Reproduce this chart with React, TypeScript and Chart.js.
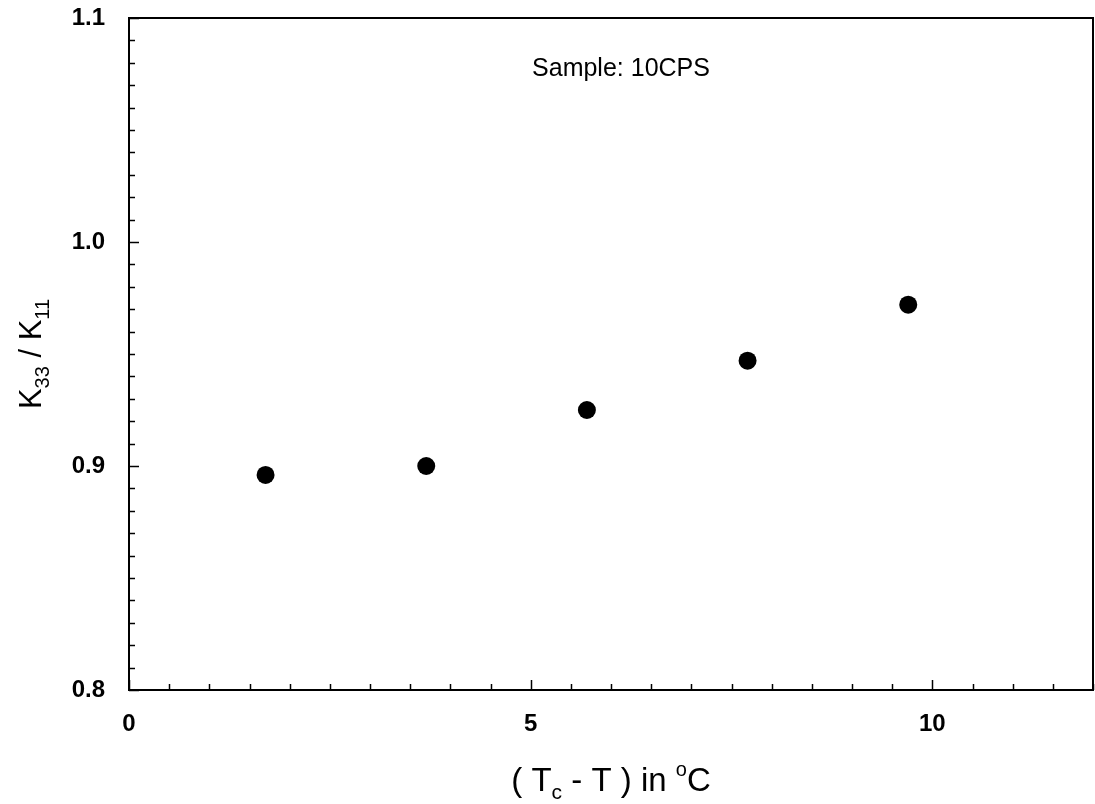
import { useEffect, useRef } from "react";
import { Chart, registerables } from "chart.js";

Chart.register(...registerables);

// ---- data ----
const xValues = [1.7, 3.7, 5.7, 7.7, 9.7];
const yValues = [0.896, 0.9, 0.925, 0.947, 0.972];
const xTickValues = [0, 5, 10];
const yTickValues = [0.8, 0.9, 1.0, 1.1];
const xMinorStep = 0.5;
const yMinorStep = 0.01;
const sampleText = "Sample: 10CPS";

const FONT = "'Liberation Sans', Arial, sans-serif";

type Seg = { t: string; size: number; dy: number };

function drawRich(ctx: CanvasRenderingContext2D, segs: Seg[], cx: number, cy: number) {
  let total = 0;
  const widths = segs.map((s) => {
    ctx.font = `${s.size}px ${FONT}`;
    const w = ctx.measureText(s.t).width;
    total += w;
    return w;
  });
  let x = cx - total / 2;
  ctx.textBaseline = "alphabetic";
  ctx.textAlign = "left";
  segs.forEach((s, i) => {
    ctx.font = `${s.size}px ${FONT}`;
    ctx.fillText(s.t, x, cy + s.dy);
    x += widths[i];
  });
}

const zeroPad = (s: any) => {
  s.paddingTop = 0;
  s.paddingBottom = 0;
  s.paddingLeft = 0;
  s.paddingRight = 0;
};

const framePlugin = {
  id: "framePlugin",
  afterDraw(chart: any) {
    const { ctx, chartArea } = chart;
    const xs = chart.scales.x;
    const ys = chart.scales.y;
    const { left, right, top, bottom } = chartArea;
    ctx.save();
    ctx.strokeStyle = "#000";
    ctx.fillStyle = "#000";
    ctx.lineWidth = 2;
    ctx.strokeRect(left, top, right - left, bottom - top);

    ctx.lineWidth = 1.5;
    // x ticks
    const nx = Math.round((xs.max - xs.min) / xMinorStep);
    for (let i = 0; i <= nx; i++) {
      const v = xs.min + i * xMinorStep;
      const px = Math.round(xs.getPixelForValue(v)) + 0.5;
      const major = xTickValues.some((t) => Math.abs(t - v) < 1e-6);
      const len = major ? 10 : 6;
      ctx.beginPath();
      ctx.moveTo(px, bottom);
      ctx.lineTo(px, bottom - len);
      ctx.stroke();
    }
    // y ticks
    const n = Math.round((ys.max - ys.min) / yMinorStep);
    for (let i = 0; i <= n; i++) {
      const v = ys.min + i * yMinorStep;
      const py = Math.round(ys.getPixelForValue(v)) + 0.5;
      const major = yTickValues.some((t) => Math.abs(t - v) < 1e-6);
      const len = major ? 10 : 6;
      ctx.beginPath();
      ctx.moveTo(left, py);
      ctx.lineTo(left + len, py);
      ctx.stroke();
    }

    // sample label
    ctx.font = `25px ${FONT}`;
    ctx.textAlign = "center";
    ctx.textBaseline = "middle";
    ctx.fillText(sampleText, 621, top + 51);

    // x title
    drawRich(
      ctx,
      [
        { t: "( T", size: 33, dy: 0 },
        { t: "c", size: 21, dy: 8 },
        { t: " - T ) in ", size: 33, dy: 0 },
        { t: "o", size: 20, dy: -15 },
        { t: "C", size: 33, dy: 0 },
      ],
      (left + right) / 2,
      bottom + 101
    );

    // y title
    ctx.save();
    ctx.translate(41, (top + bottom) / 2);
    ctx.rotate(-Math.PI / 2);
    drawRich(
      ctx,
      [
        { t: "K", size: 31, dy: 0 },
        { t: "33", size: 20, dy: 8 },
        { t: " / K", size: 31, dy: 0 },
        { t: "11", size: 20, dy: 8 },
      ],
      0,
      0
    );
    ctx.restore();
    ctx.restore();
  },
};

export default function App() {
  const ref = useRef<HTMLCanvasElement | null>(null);
  useEffect(() => {
    if (!ref.current) return;
    const chart = new Chart(ref.current, {
      type: "scatter",
      data: {
        datasets: [
          {
            data: xValues.map((x, i) => ({ x, y: yValues[i] })),
            pointRadius: 9,
            pointBackgroundColor: "#000",
            pointBorderWidth: 0,
            pointBorderColor: "#000",
            showLine: false,
          },
        ],
      },
      options: {
        responsive: false,
        animation: false,
        layout: { autoPadding: false, padding: { top: 18, right: 2, left: 0, bottom: 0 } },
        plugins: { legend: { display: false }, tooltip: { enabled: false } },
        scales: {
          x: {
            type: "linear",
            min: 0,
            max: 12,
            grid: { display: false },
            border: { display: false },
            afterBuildTicks: (s: any) => {
              s.ticks = xTickValues.map((v) => ({ value: v }));
            },
            afterFit: (s: any) => {
              s.height = 114;
              zeroPad(s);
            },
            ticks: {
              color: "#000",
              font: { family: FONT, size: 24, weight: "bold" },
              padding: 12,
              maxRotation: 0,
              callback: (v: any) => String(v),
            },
          },
          y: {
            type: "linear",
            min: 0.8,
            max: 1.1,
            grid: { display: false },
            border: { display: false },
            afterBuildTicks: (s: any) => {
              s.ticks = yTickValues.map((v) => ({ value: v }));
            },
            afterFit: (s: any) => {
              s.width = 129;
              zeroPad(s);
            },
            ticks: {
              color: "#000",
              font: { family: FONT, size: 24, weight: "bold" },
              padding: 16,
              callback: (v: any) => Number(v).toFixed(1),
            },
          },
        },
      },
      plugins: [framePlugin],
    });
    return () => chart.destroy();
  }, []);
  return (
    <div style={{ position: "absolute", left: 0, top: 0, width: 1095, height: 804, background: "#fff" }}>
      <canvas ref={ref} width={1095} height={804} />
    </div>
  );
}
